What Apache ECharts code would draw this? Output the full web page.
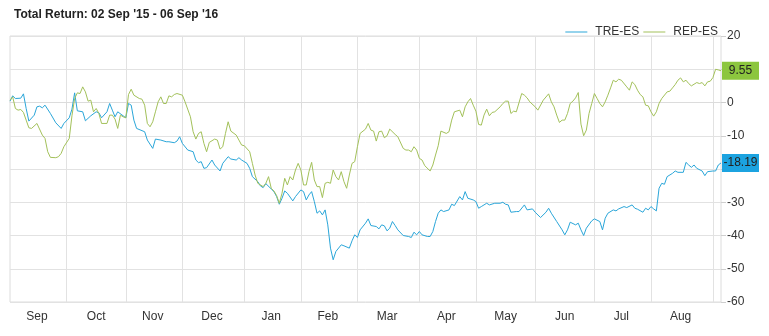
<!DOCTYPE html>
<html><head><meta charset="utf-8">
<script src="https://cdn.jsdelivr.net/npm/echarts@6/dist/echarts.min.js"></script>
<style>html,body{margin:0;padding:0;background:#fff}#c{width:769px;height:336px}</style>
</head><body><div id="c"></div><script>
// Months on the axis and number of trading days in each (02 Sep '15 - 06 Sep '16)
const months = ['Sep','Oct','Nov','Dec','Jan','Feb','Mar','Apr','May','Jun','Jul','Aug','Sep'];
const monthDays = [21,22,21,23,21,21,23,21,22,22,21,23,4];
const yTicks = [20,10,0,-10,-20,-30,-40,-50,-60];

// TRE-ES total return (%), by trading-day index
const treDay = [0,1,2,4,5,6,7,9,10,11,12,13,15,17,19,20,22,23,24,25,27,28,30,32,33,34,36,37,38,39,40,42,43,44,45,46,47,50,51,53,54,56,58,59,61,62,63,64,66,68,69,70,71,72,73,75,76,78,79,81,82,84,85,86,88,89,90,92,93,94,95,97,98,99,100,101,102,103,105,106,108,109,110,111,112,113,114,115,116,117,118,119,120,121,123,124,126,127,128,129,130,132,133,134,136,137,138,139,140,141,142,143,144,146,148,149,150,151,152,153,155,156,157,158,159,160,161,163,164,165,167,168,169,170,172,173,174,175,177,178,180,182,183,184,185,186,188,189,191,192,194,195,197,199,200,201,203,205,206,207,208,210,211,212,213,214,216,217,219,220,221,222,224,225,226,228,229,231,232,233,235,236,237,238,239,240,241,242,243,244,246,247,248,250,251,252,253,254,255,257,258,259,261,262,263,264];
const treVal = [0.4,2.0,1.2,1.3,2.6,-1.8,-5.6,-3.8,-1.3,-1.1,-1.6,-0.8,-3.3,-6.1,-7.8,-6.3,-4.6,-2.0,2.9,-2.5,-2.8,-5.5,-4.0,-2.8,-3.1,-4.6,-2.8,-0.3,-2.3,-4.3,-2.8,-4.0,-4.6,-0.3,-0.8,-5.3,-7.8,-8.8,-11.3,-13.8,-11.0,-11.3,-11.8,-11.8,-12.1,-11.6,-10.3,-12.3,-14.3,-14.8,-17.3,-18.1,-17.8,-19.8,-19.6,-17.3,-18.8,-20.6,-18.3,-16.3,-17.0,-17.3,-16.6,-17.3,-18.3,-19.8,-22.3,-23.8,-25.1,-25.6,-24.4,-26.0,-26.8,-28.3,-30.6,-28.8,-26.6,-27.3,-29.6,-28.3,-26.3,-26.8,-29.3,-27.8,-26.8,-29.8,-33.3,-32.6,-33.8,-32.3,-36.8,-43.8,-47.3,-44.8,-42.8,-43.1,-43.8,-41.6,-39.8,-40.6,-38.3,-36.3,-35.0,-37.0,-37.3,-38.0,-36.8,-37.1,-38.6,-37.8,-35.8,-37.0,-38.3,-40.0,-40.3,-40.6,-39.0,-39.8,-38.8,-39.8,-40.3,-40.3,-38.8,-35.8,-33.3,-32.3,-32.8,-32.3,-30.6,-31.0,-28.3,-29.3,-26.8,-28.8,-29.3,-29.8,-31.8,-31.3,-30.3,-30.8,-30.3,-30.3,-30.0,-30.6,-30.8,-33.0,-32.8,-32.8,-30.8,-32.3,-32.0,-33.0,-34.6,-33.0,-31.8,-33.3,-35.8,-38.3,-39.8,-38.3,-36.0,-36.8,-36.3,-38.3,-40.0,-37.8,-35.6,-35.0,-35.8,-38.3,-34.8,-33.3,-32.3,-32.6,-32.0,-31.3,-31.6,-30.8,-31.8,-32.1,-33.0,-31.8,-32.3,-31.3,-32.0,-32.6,-25.8,-24.3,-24.6,-22.3,-21.3,-20.6,-21.0,-21.0,-18.0,-18.8,-19.5,-18.8,-19.8,-20.6,-22.0,-20.8,-20.6,-20.6,-18.8,-18.19];

// REP-ES total return (%), by trading-day index
const repDay = [0,1,2,3,4,5,6,7,8,10,12,13,14,15,17,18,19,20,22,23,24,25,26,27,28,29,30,31,32,33,34,36,37,38,39,40,41,42,43,44,45,46,48,49,50,51,52,53,54,55,56,57,58,59,60,61,62,64,65,67,68,69,70,71,72,73,74,76,77,78,79,80,81,82,84,85,86,87,89,90,91,92,94,95,96,97,98,99,100,101,102,103,104,105,106,107,108,109,110,111,112,113,114,115,116,117,118,119,120,121,122,123,124,125,126,127,128,129,130,132,133,134,135,136,137,138,139,140,141,143,144,146,147,148,149,150,151,152,153,154,156,157,158,159,160,162,163,164,165,167,168,169,170,171,172,173,174,175,176,177,178,179,180,182,183,184,185,186,187,188,190,191,192,193,195,196,198,200,201,202,203,204,205,206,207,208,209,210,211,212,213,214,215,216,217,218,219,220,221,222,223,224,225,226,227,229,230,231,232,233,234,235,236,237,238,239,240,241,242,244,245,246,247,248,249,250,251,252,253,255,256,257,258,259,260,261,262,263,264];
const repVal = [0.7,1.7,-1.8,-2.3,-2.1,-3.0,-5.3,-7.6,-7.8,-6.3,-9.8,-10.8,-14.8,-16.5,-16.6,-16.3,-15.3,-13.3,-10.8,-4.0,1.2,2.9,2.7,4.7,3.2,0.4,0.7,-2.8,-1.8,-3.3,-6.3,-6.3,-3.8,-3.8,-5.0,-7.8,-3.8,-4.3,-4.6,2.4,4.0,2.2,1.2,1.0,-0.8,-6.3,-7.3,-5.8,-2.8,0.2,1.7,-0.3,-0.3,2.0,1.7,2.4,2.7,2.2,0.2,-4.3,-8.8,-11.0,-9.3,-8.8,-12.3,-14.8,-12.0,-11.0,-11.3,-14.0,-13.3,-9.3,-5.8,-8.6,-9.8,-11.3,-12.8,-13.0,-14.8,-18.3,-21.8,-24.3,-25.3,-24.3,-22.3,-25.8,-26.6,-28.0,-30.3,-27.3,-22.8,-24.8,-22.3,-23.3,-20.3,-18.3,-20.3,-24.8,-24.8,-20.8,-18.0,-23.3,-25.3,-25.3,-28.6,-24.3,-24.0,-24.3,-20.3,-22.3,-23.3,-20.8,-23.8,-25.8,-21.8,-18.3,-17.8,-13.3,-9.3,-8.0,-6.3,-8.3,-8.6,-11.6,-8.8,-8.6,-10.6,-10.0,-8.0,-9.6,-10.3,-13.8,-14.3,-14.3,-14.8,-13.3,-14.3,-16.8,-17.3,-19.0,-20.6,-18.8,-15.8,-13.0,-8.6,-9.3,-8.8,-5.3,-2.8,-2.3,-4.3,-1.3,0.2,1.2,-0.8,-2.6,-6.6,-6.8,-3.8,-2.0,-4.0,-3.0,-2.8,-1.3,-0.3,0.4,0.4,-3.3,-2.6,-2.8,2.7,2.2,1.4,0.2,-1.3,-2.3,0.7,2.6,0.2,-1.3,-3.8,-6.0,-5.3,-5.3,-3.3,-0.3,0.4,1.4,3.0,-6.5,-10.0,-8.3,-3.3,-0.3,2.7,1.2,-0.3,-1.3,0.2,2.2,4.4,6.7,6.2,7.0,6.7,4.7,3.7,6.2,5.4,3.7,2.4,1.7,-0.8,-1.0,-2.8,-4.1,-2.8,-0.3,1.2,3.2,3.4,4.4,5.4,6.7,7.4,6.2,6.7,5.7,5.0,6.0,5.7,6.0,5.0,6.2,6.4,7.5,10.0,9.8,9.55];

// Category table built from the month arrays
const categories = [];
const monthStart = new Set();
const monthMid = new Set();
let k = 0;
months.forEach((m, i) => {
  if (k > 0) monthStart.add(k);
  if (monthDays[i] >= 10) monthMid.add(k + Math.floor(monthDays[i] / 2));
  for (let j = 0; j < monthDays[i]; j++) categories.push(m + ' ' + (k + j));
  k += monthDays[i];
});
const pairs = (xs, ys) => xs.map((x, i) => [x, ys[i]]);

const TRE = '#2aa6d9', REP = '#a3c15a';
const chart = echarts.init(document.getElementById('c'), null, {renderer: 'canvas'});
chart.setOption({
  animation: false,
  backgroundColor: '#fff',
  title: {
    text: "Total Return: 02 Sep '15 - 06 Sep '16",
    left: 9, top: 4,
    textStyle: {fontFamily: 'Arial', fontSize: 12, fontWeight: 'bold', color: '#222'}
  },
  legend: {
    right: 46, top: 20, itemWidth: 22, itemHeight: 1, itemGap: 4, icon: 'rect',
    textStyle: {fontFamily: 'Arial', fontSize: 12, color: '#333', lineHeight: 14, padding: [0, 0, 0, 3]},
    data: ['TRE-ES', 'REP-ES']
  },
  grid: {left: 10, right: 48, top: 36, bottom: 34, show: true, borderColor: '#dcdcdc', borderWidth: 1},
  xAxis: {
    type: 'category', data: categories, boundaryGap: false,
    axisLine: {show: true, lineStyle: {color: '#dcdcdc'}},
    axisTick: {show: true, length: 6, lineStyle: {color: '#dcdcdc'}, interval: (i) => monthStart.has(i)},
    splitLine: {show: true, lineStyle: {color: '#e2e2e2'}, interval: (i) => monthStart.has(i)},
    axisLabel: {
      interval: (i) => monthMid.has(i), margin: 9,
      fontFamily: 'Arial', fontSize: 12, color: '#333',
      formatter: (v) => v.split(' ')[0]
    }
  },
  yAxis: {
    type: 'value', position: 'right', min: -60, max: 20, interval: 10,
    axisLine: {show: false},
    axisTick: {show: true, length: 5, lineStyle: {color: '#cfcfcf'}},
    splitLine: {show: true, lineStyle: {color: '#e2e2e2'}},
    axisLabel: {margin: 6, fontFamily: 'Arial', fontSize: 12, color: '#333',
      customValues: yTicks}
  },
  series: [
    {
      name: 'TRE-ES', type: 'line', data: pairs(treDay, treVal), symbol: 'none',
      lineStyle: {width: 1, color: TRE}, itemStyle: {color: TRE},
      endLabel: {
        show: true, distance: 1,
        formatter: (p) => '{a|' + p.value[1].toFixed(2) + '}',
        backgroundColor: '#1ca3e0', padding: [2, 4],
        rich: {a: {width: 29, align: 'center', fontFamily: 'Arial', fontSize: 12, color: '#222', lineHeight: 14}}
      }
    },
    {
      name: 'REP-ES', type: 'line', data: pairs(repDay, repVal), symbol: 'none',
      lineStyle: {width: 1, color: REP}, itemStyle: {color: REP},
      endLabel: {
        show: true, distance: 1,
        formatter: (p) => '{a|' + p.value[1].toFixed(2) + '}',
        backgroundColor: '#8cc63e', padding: [2, 4],
        rich: {a: {width: 29, align: 'center', fontFamily: 'Arial', fontSize: 12, color: '#222', lineHeight: 14}}
      }
    }
  ]
});
</script></body></html>
